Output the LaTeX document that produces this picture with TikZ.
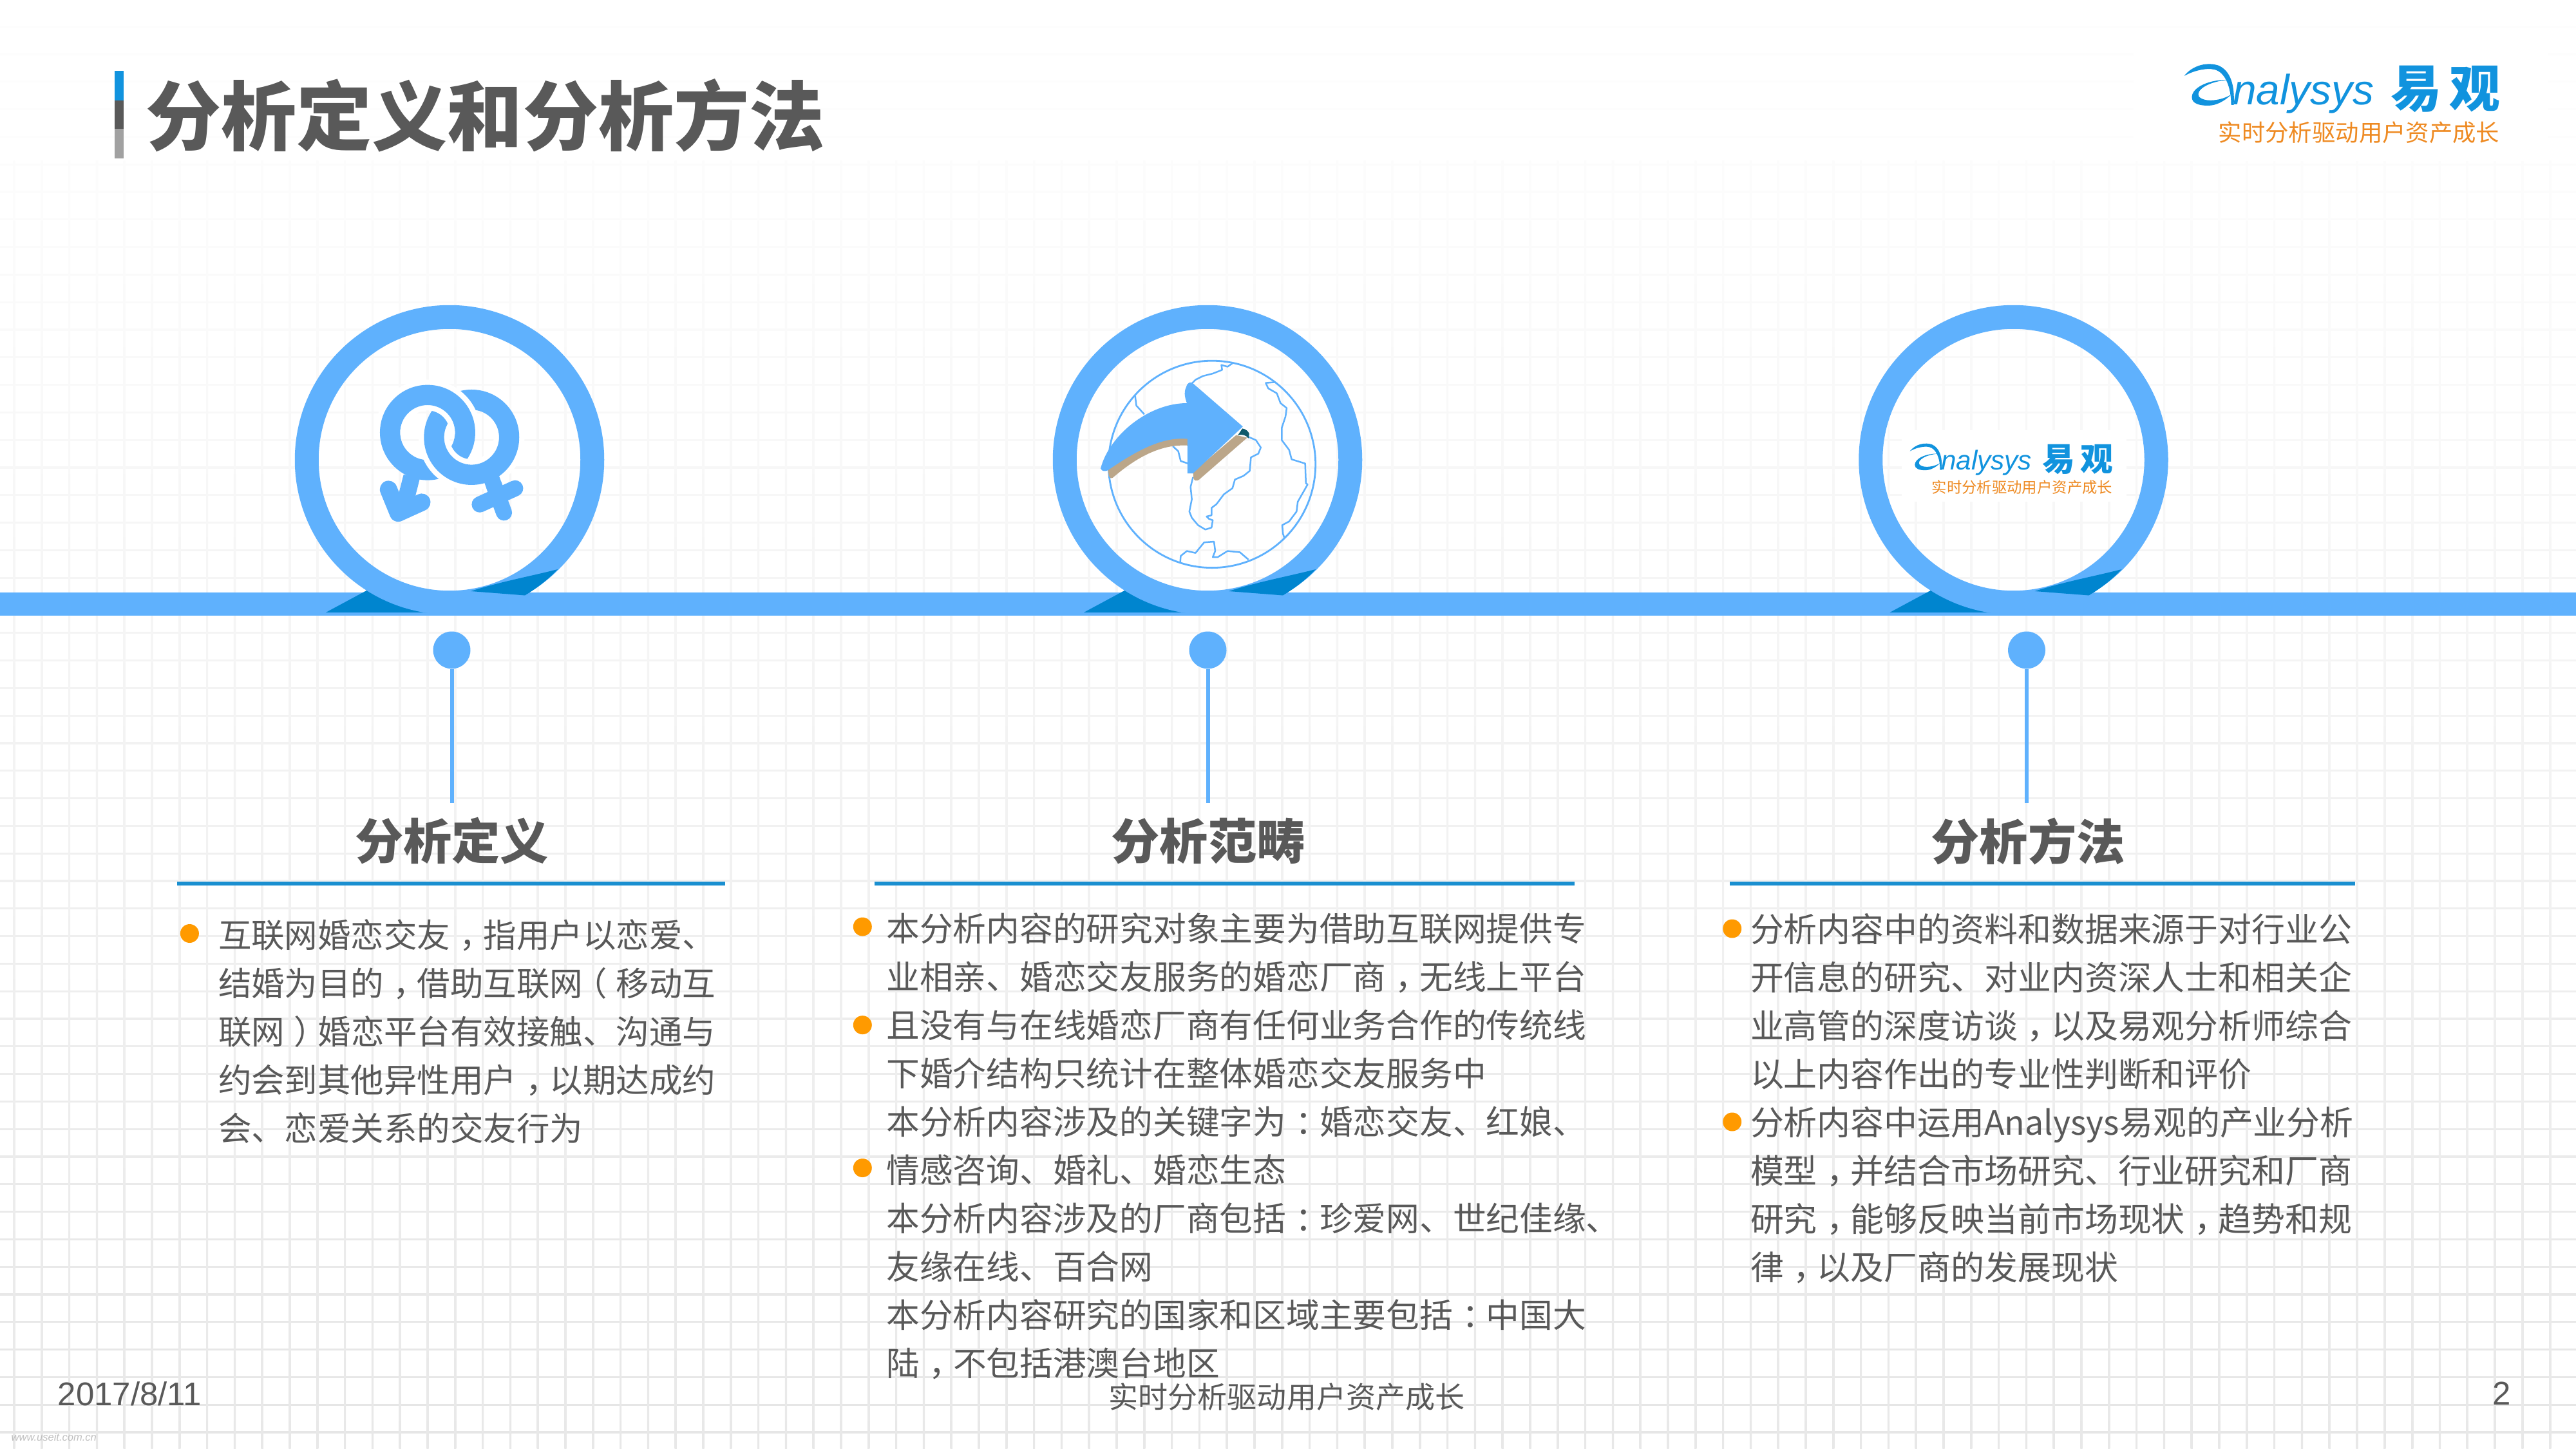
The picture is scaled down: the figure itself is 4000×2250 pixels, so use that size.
\documentclass[tikz,border=0pt]{standalone}
\usepackage{fontspec}
\setmainfont{Noto Sans CJK SC}
\newfontfamily\latinfont{Liberation Sans}
\newcommand{\shiftr}[1]{\kern.28em #1\kern-.28em}
\newcommand{\shiftl}[1]{\kern-.28em #1\kern.28em}
\definecolor{linkblue}{HTML}{5FB1FD}
\definecolor{darkblue}{HTML}{0085CF}
\definecolor{logoblue}{HTML}{1193DE}
\definecolor{logoorange}{HTML}{EE8A22}
\definecolor{bodygray}{HTML}{595959}
\definecolor{bulletorange}{HTML}{FF9A00}
\definecolor{rulecyan}{HTML}{1A8FD0}
\definecolor{arrowtan}{HTML}{BBA689}
\definecolor{tealdark}{HTML}{0F5A6B}
\tikzset{
 x=0.1mm,y=-0.1mm,
 bodytext/.style={anchor=north west,inner sep=0,outer sep=0,align=left,text=bodygray},
 heading/.style={anchor=center,inner sep=0,font=\fontsize{21.4pt}{26pt}\selectfont\bfseries,text=bodygray},
 dotnode/.style={circle,fill=linkblue,minimum size=5.8mm,inner sep=0},
 bulletdot/.style={circle,fill=bulletorange,inner sep=0,minimum size=2.9mm},
 ringnode/.style={circle,draw=linkblue,line width=3.7mm,minimum size=44.35mm,inner sep=0},
 stemline/.style={draw=linkblue,line width=0.6mm},
 headrule/.style={draw=rulecyan,line width=0.55mm},
 brandlogo/.pic={
  \fill[logoblue] (0,22) .. controls (14,4) and (38,0) .. (54,6) .. controls (71,14) and (79,34) .. (77,67) -- (73,67) .. controls (73,40) and (64,16) .. (47,12) .. controls (34,9) and (14,14) .. (0,22) -- cycle;
  \fill[logoblue] (70,28) .. controls (38,27) and (12,40) .. (12,55) .. controls (12,65) and (24,68) .. (37,68) .. controls (51,68) and (64,60) .. (74,50) .. controls (60,60) and (32,64) .. (23,54) .. controls (17,44) and (38,30) .. (70,28) -- cycle;
  \node[anchor=base west,inner sep=0,text=logoblue,font=\latinfont\itshape\fontsize{18.7pt}{20pt}\selectfont] (word) at (75,67) {nalysys};
  \node[inner sep=0,text=logoblue,font=\bfseries\fontsize{22.5pt}{24pt}\selectfont] (yiguan) at (406,42) {易\kern1.2mm观};
  \node[inner sep=0,text=logoorange,font=\fontsize{10.35pt}{12pt}\selectfont] (slogan) at (271.5,109.5) {实时分析驱动用户资产成长};
 },
}
\begin{document}
\begin{tikzpicture}
\useasboundingbox (0,0) rectangle (4000,2250);
\fill[white] (0,0) rectangle (4000,2250);
% background grid, fading out toward the top
\foreach \i in {0,...,52}{
 \pgfmathsetmacro{\yy}{2224-\i*42.8}
 \pgfmathsetmacro{\shade}{max(3,min(60,60-(2224-\yy)/2224*62))}
 \draw[line width=0.32mm,black!\shade!white,opacity=.16] (0,\yy) -- (4000,\yy);
}
\foreach \i in {0,...,93}{
 \pgfmathsetmacro{\xx}{22+\i*42.8}
 \shade[bottom color=black!9,top color=black!1] (\xx-1.6,250) rectangle (\xx+1.6,2250);
}
% title with accent bar
\fill[logoblue] (178,110) rectangle (192,156);
\fill[bodygray] (178,156) rectangle (192,200);
\fill[black!37] (178,200) rectangle (192,246);
\node[inner sep=0,font=\fontsize{33.3pt}{36pt}\selectfont\bfseries,text=bodygray] (title) at (753.5,179) {分析定义和分析方法};
% top logo
\fill[white] (3313,57) rectangle (3956,250);
\pic (logoa) at (3391.5,96) {brandlogo};
% time line
\fill[linkblue] (0,920) rectangle (4000,956);
\foreach \c in {698,1875,3126.5}{
 \fill[darkblue] (\c-192,951) -- (\c-127,916) -- (\c-95,916) -- (\c-27,951) -- cycle;
}
\node[ringnode] (ring1) at (698,714) {};
\node[ringnode] (ring2) at (1875,714) {};
\node[ringnode] (ring3) at (3126.5,714) {};
\foreach \c in {698,1875,3126.5}{
 \fill[darkblue] (\c+33,918) .. controls (\c+80,903) and (\c+125,895) .. (\c+168,884) .. controls (\c+155,898) and (\c+138,912) .. (\c+117,924.5) -- cycle;
}
% male / female icon
\begin{scope}[shift={(500,540)}]
\begin{scope}[x=0.03333mm,y=-0.03333mm]
 \coordinate (mc) at (492,395);
 \coordinate (fc) at (697,417);
 \fill[linkblue,even odd rule] (fc) circle (222) (fc) circle (128);
 \draw[linkblue,line width=2.5mm,line cap=round] (790,610) -- (848,768);
 \draw[linkblue,line width=2.5mm,line cap=round] (735,730) -- (900,655);
 \begin{scope}
  \clip (200,100) rectangle (1000,406);
  \fill[white,even odd rule] (mc) circle (247) (mc) circle (103);
  \fill[linkblue,even odd rule] (mc) circle (222) (mc) circle (128);
 \end{scope}
 \begin{scope}
  \clip (200,406) rectangle (1000,900);
  \fill[linkblue,even odd rule] (mc) circle (222) (mc) circle (128);
  \draw[linkblue,line width=2.6mm] (418,600) -- (385,730);
  \draw[linkblue,line width=2.7mm,line cap=round,line join=round] (310,660) -- (355,770) -- (465,720);
  \fill[white,even odd rule] (fc) circle (247) (fc) circle (103);
  \fill[linkblue,even odd rule] (fc) circle (222) (fc) circle (128);
  \draw[linkblue,line width=2.5mm] (790,610) -- (815,680);
 \end{scope}
\end{scope}
\end{scope}
% globe icon
\begin{scope}[shift={(1600,450)}]
\begin{scope}[x=0.03827mm,y=-0.03827mm]
 \draw[linkblue,line width=0.28mm] (737,708) circle (420);
 \draw[linkblue,line width=0.25mm,line join=round]
  (820,298) -- (800,312) -- (775,305) -- (778,325) -- (740,340) -- (700,350) -- (670,365) -- (650,385)
  (425,430) -- (430,470) -- (462,505)
  (578,635) -- (600,655) -- (610,695) -- (640,705)
  (885,597) -- (915,610) -- (935,640) -- (925,665) -- (895,680) -- (890,735) -- (865,755) -- (830,770) -- (820,805) -- (785,830) -- (755,870) -- (735,885) -- (735,915) -- (715,920) -- (725,930) -- (740,935) -- (735,965) -- (710,973) -- (680,955) -- (655,925) -- (645,900) -- (655,850) -- (650,800) -- (660,760)
  (990,375) -- (955,378) -- (965,400) -- (1000,420) -- (1015,460) -- (1040,480) -- (1035,515) -- (1020,560) -- (1020,610) -- (1050,650) -- (1060,688) -- (1115,705) -- (1118,785) -- (1125,790) -- (1085,860) -- (1080,900) -- (1050,940) -- (1022,955) -- (1025,990) -- (1030,1005)
  (608,1105) -- (610,1080) -- (635,1060) -- (670,1068) -- (705,1025) -- (745,1022) -- (750,1060) -- (740,1085) -- (760,1085) -- (800,1060) -- (850,1065) -- (885,1095);
 \fill[arrowtan] (315,725) .. controls (400,660) and (520,600) .. (640,600) -- (640,632) .. controls (530,625) and (430,680) .. (335,762) .. controls (328,768) and (320,762) .. (318,755) -- cycle;
 \fill[arrowtan] (835,590) -- (880,600) -- (685,770) .. controls (675,778) and (665,775) .. (662,765) -- (660,740) -- cycle;
 \fill[tealdark] (842,590) -- (860,563) .. controls (875,565) and (885,575) .. (888,585) -- (885,603) .. controls (875,590) and (860,585) .. (842,590) -- cycle;
 \fill[linkblue] (285,725) .. controls (320,590) and (480,460) .. (635,460) .. controls (630,445) and (620,420) .. (632,395) .. controls (635,378) and (650,370) .. (660,380) -- (862,555) -- (660,745) -- (637,745) -- (637,605) .. controls (530,595) and (420,660) .. (315,732) .. controls (305,738) and (290,738) .. (285,725) -- cycle;
\end{scope}
\end{scope}
% small logo in third ring
\fill[white] (2953,668) rectangle (3301.6,779);
\pic[transform shape,scale=.642] (logob) at (2965.6,686.5) {brandlogo};
% dots, stems, headings, rules
\node[dotnode] (dot1) at (701.5,1009.5) {};
\node[dotnode] (dot2) at (1875.5,1009.5) {};
\node[dotnode] (dot3) at (3147,1009.5) {};
\coordinate (end1) at (701.5,1247);
\coordinate (end2) at (1875.5,1247);
\coordinate (end3) at (3147,1247);
\draw[stemline] (dot1) -- (end1);
\draw[stemline] (dot2) -- (end2);
\draw[stemline] (dot3) -- (end3);
\node[heading] (h1) at (701.5,1306) {分析定义};
\node[heading] (h2) at (1876,1306) {分析范畴};
\node[heading] (h3) at (3149,1306) {分析方法};
\coordinate (r1a) at (275,1372); \coordinate (r1b) at (1126,1372);
\coordinate (r2a) at (1357.5,1372); \coordinate (r2b) at (2445,1372);
\coordinate (r3a) at (2686,1372); \coordinate (r3b) at (3657,1372);
\draw[headrule] (r1a) -- (r1b);
\draw[headrule] (r2a) -- (r2b);
\draw[headrule] (r3a) -- (r3b);
% bullets
\node[bulletdot] (b11) at (294.4,1449.5) {};
\node[bulletdot] (b21) at (1339.3,1439) {};
\node[bulletdot] (b22) at (1339.3,1591.6) {};
\node[bulletdot] (b23) at (1339.3,1813.5) {};
\node[bulletdot] (b31) at (2689.7,1442) {};
\node[bulletdot] (b32) at (2689.7,1742) {};
% body text
\node[bodytext,font=\fontsize{14.65pt}{21.34pt}\selectfont] (t1) at (339,1427.5) {互联网婚恋交友\shiftr{，}指用户以恋爱、\\
结婚为目的\shiftr{，}借助互联网\shiftl{（}移动互\\
联网\shiftr{）}婚恋平台有效接触、沟通与\\
约会到其他异性用户\shiftr{，}以期达成约\\
会、恋爱关系的交友行为};
\node[bodytext,font=\fontsize{14.72pt}{21.34pt}\selectfont] (t2) at (1376.5,1417.5) {本分析内容的研究对象主要为借助互联网提供专\\
业相亲、婚恋交友服务的婚恋厂商\shiftr{，}无线上平台\\
且没有与在线婚恋厂商有任何业务合作的传统线\\
下婚介结构只统计在整体婚恋交友服务中\\
本分析内容涉及的关键字为\shiftr{：}婚恋交友、红娘、\\
情感咨询、婚礼、婚恋生态\\
本分析内容涉及的厂商包括\shiftr{：}珍爱网、世纪佳缘、\\
友缘在线、百合网\\
本分析内容研究的国家和区域主要包括\shiftr{：}中国大\\
陆\shiftr{，}不包括港澳台地区};
\node[bodytext,font=\fontsize{14.77pt}{21.34pt}\selectfont] (t3) at (2718,1418.5) {分析内容中的资料和数据来源于对行业公\\
开信息的研究、对业内资深人士和相关企\\
业高管的深度访谈\shiftr{，}以及易观分析师综合\\
以上内容作出的专业性判断和评价\\
分析内容中运用Analysys易观的产业分析\\
模型\shiftr{，}并结合市场研究、行业研究和厂商\\
研究\shiftr{，}能够反映当前市场现状\shiftr{，}趋势和规\\
律\shiftr{，}以及厂商的发展现状};
% footer
\node[anchor=west,inner sep=0,text=bodygray,font=\latinfont\fontsize{14.5pt}{16pt}\selectfont] (date) at (89,2164) {2017/8/11};
\node[inner sep=0,text=bodygray,font=\fontsize{13.1pt}{15pt}\selectfont] (foot) at (1998,2169) {实时分析驱动用户资产成长};
\node[inner sep=0,text=bodygray,font=\latinfont\fontsize{14.5pt}{16pt}\selectfont] (page) at (3885,2164) {2};
\node[anchor=west,inner sep=0,text=black!25,font=\latinfont\itshape\fontsize{4.7pt}{5pt}\selectfont] (mark) at (17,2232) {www.useit.com.cn};
\end{tikzpicture}
\end{document}
